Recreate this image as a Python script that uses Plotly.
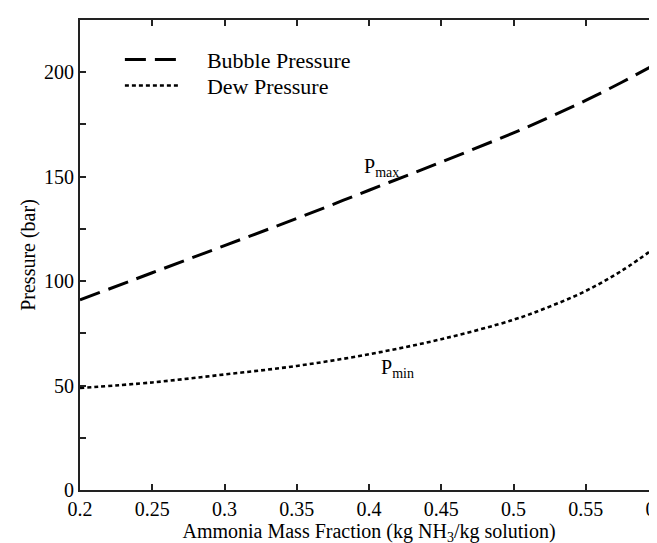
import plotly.graph_objects as go

# Data
mass_fraction = [0.2, 0.25, 0.3, 0.35, 0.4, 0.45, 0.5, 0.525, 0.55, 0.575, 0.6]
bubble_pressure = [91.0, 104.0, 117.0, 130.0, 143.5, 157.0, 171.0, 178.5, 186.5, 195.2, 204.5]
dew_pressure = [48.8, 51.5, 55.3, 59.4, 65.0, 72.2, 81.5, 87.8, 95.3, 105.0, 117.0]

x_ticks = [0.2, 0.25, 0.3, 0.35, 0.4, 0.45, 0.5, 0.55, 0.6]
x_tick_labels = ["0.2", "0.25", "0.3", "0.35", "0.4", "0.45", "0.5", "0.55", "0.6"]
y_ticks = [0, 50, 100, 150, 200]
y_tick_labels = ["0", "50", "100", "150", "200"]

FONT = "Liberation Serif, Times New Roman, serif"
PAD = "\u00a0\u00a0\u00a0\u00a0"

fig = go.Figure()
fig.add_trace(go.Scatter(
    x=mass_fraction, y=bubble_pressure, mode="lines", name=PAD + "Bubble Pressure",
    line=dict(color="black", width=3, dash="21px,9px", shape="spline"),
    legend="legend",
))
fig.add_trace(go.Scatter(
    x=mass_fraction, y=dew_pressure, mode="lines", name=PAD + "Dew Pressure",
    line=dict(color="black", width=2.6, dash="4px,3px", shape="spline"),
    legend="legend2",
))

fig.add_annotation(x=0.3952, y=154.5, xref="x", yref="y", text="P<sub>max</sub>",
                   showarrow=False, xanchor="left", yanchor="middle",
                   font=dict(family=FONT, size=20, color="black"))
fig.add_annotation(x=0.4072, y=58.0, xref="x", yref="y", text="P<sub>min</sub>",
                   showarrow=False, xanchor="left", yanchor="middle",
                   font=dict(family=FONT, size=20, color="black"))

axis_common = dict(
    showline=True, linecolor="#222", linewidth=2, mirror="ticks",
    ticks="inside", ticklen=6, tickwidth=1.5, tickcolor="#222",
    showgrid=False, zeroline=False, ticklabeloverflow="allow", automargin=False,
    tickfont=dict(family=FONT, size=20, color="black"),
)

fig.update_xaxes(
    range=[0.2, 0.600001], tickmode="array", tickvals=x_ticks, ticktext=x_tick_labels,
    title=dict(text="Ammonia Mass Fraction (kg NH<sub>3</sub>/kg solution)",
               font=dict(family=FONT, size=20, color="black"), standoff=1),
    **axis_common,
)
fig.update_yaxes(
    range=[0, 225], tickmode="array", tickvals=y_ticks, ticktext=y_tick_labels,
    minor=dict(dtick=25, ticks="inside", ticklen=6, tickwidth=1.5, tickcolor="#222", showgrid=False),
    title=dict(text="Pressure (bar)", font=dict(family=FONT, size=20, color="black"), standoff=3),
    **axis_common,
)

legend_common = dict(xanchor="left", yanchor="top", bgcolor="rgba(0,0,0,0)",
                     itemwidth=55, font=dict(family=FONT, size=22, color="black"))

fig.update_layout(
    width=657, height=543,
    margin=dict(l=72, r=7, t=12, b=61, autoexpand=False),
    paper_bgcolor="white", plot_bgcolor="white",
    showlegend=True,
    legend=dict(x=0.069, y=0.96, **legend_common),
    legend2=dict(x=0.069, y=0.905, **legend_common),
    font=dict(family=FONT, color="black"),
)

fig.write_html("out.html")
